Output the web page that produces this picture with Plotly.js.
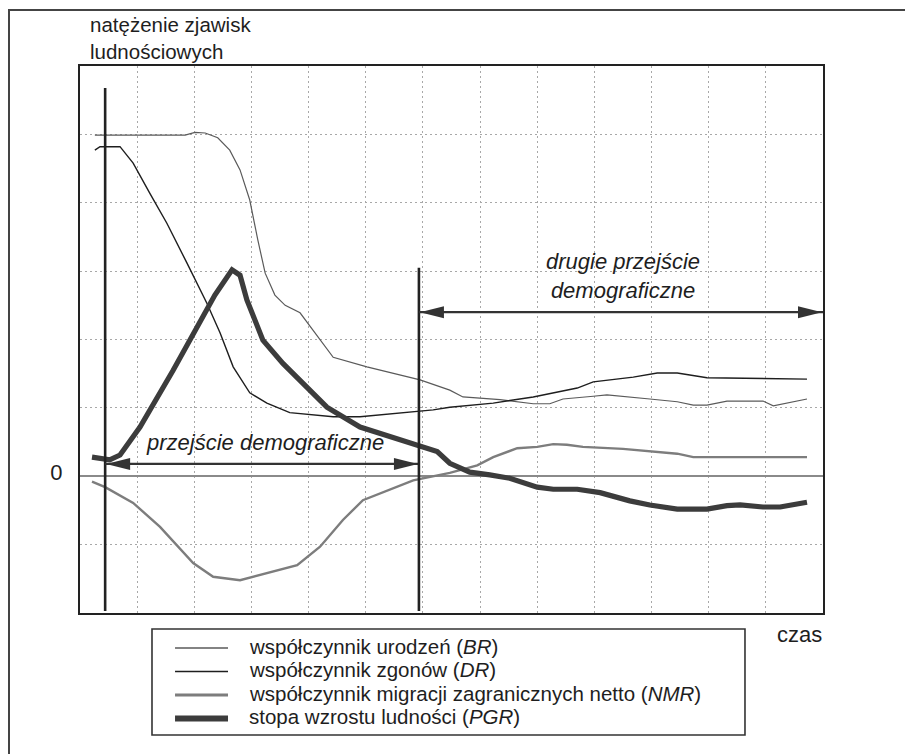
<!DOCTYPE html>
<html>
<head>
<meta charset="utf-8">
<script src="https://cdn.plot.ly/plotly-3.0.1.min.js"></script>
<style>
  html, body { margin: 0; padding: 0; background: #fff; }
  #frame { position: absolute; left: 8px; top: 9px; width: 905px; height: 760px;
           border-left: 2px solid #444; border-top: 2px solid #444; box-sizing: border-box; }
  #chart { position: absolute; left: 0; top: 0; width: 905px; height: 754px; }
</style>
</head>
<body>
<div id="frame"></div>
<div id="chart"></div>
<script>
// ---- data (time in grid units, intensity in grid units; 0 = zero line) ----
const brX  = [0.26, 1.84, 2.01, 2.19, 2.41, 2.62, 2.80, 2.97, 3.11, 3.24, 3.41, 3.59, 3.85, 4.20, 4.43, 5.02, 5.95, 6.47, 6.70, 7.35, 7.93, 8.22, 8.45, 8.98, 9.22, 9.97, 10.45, 10.73, 10.97, 11.32, 11.95, 12.13, 12.72];
const brY  = [4.99, 4.99, 5.03, 5.02, 4.95, 4.77, 4.48, 4.04, 3.46, 2.97, 2.65, 2.50, 2.39, 1.99, 1.74, 1.60, 1.41, 1.26, 1.16, 1.12, 1.06, 1.06, 1.13, 1.17, 1.19, 1.13, 1.09, 1.04, 1.04, 1.10, 1.10, 1.03, 1.13];

const drX  = [0.26, 0.35, 0.70, 0.93, 1.22, 1.52, 1.87, 2.22, 2.45, 2.68, 2.97, 3.27, 3.67, 4.43, 4.90, 5.60, 6.18, 6.47, 7.23, 7.93, 8.70, 8.98, 9.68, 10.10, 10.45, 10.67, 10.97, 12.72];
const drY  = [4.77, 4.82, 4.82, 4.58, 4.14, 3.70, 3.12, 2.53, 2.10, 1.60, 1.22, 1.07, 0.93, 0.87, 0.87, 0.93, 0.97, 1.01, 1.07, 1.16, 1.29, 1.38, 1.45, 1.51, 1.51, 1.48, 1.44, 1.42];

const nmrX = [0.21, 0.44, 0.93, 1.40, 1.98, 2.33, 2.80, 3.32, 3.80, 4.20, 4.60, 4.95, 5.42, 5.83, 6.47, 6.95, 7.23, 7.65, 8.00, 8.28, 8.52, 8.80, 9.50, 9.97, 10.45, 10.73, 12.72];
const nmrY = [-0.08, -0.16, -0.39, -0.74, -1.27, -1.47, -1.52, -1.40, -1.30, -1.03, -0.64, -0.35, -0.20, -0.06, 0.05, 0.16, 0.28, 0.41, 0.43, 0.47, 0.46, 0.43, 0.40, 0.36, 0.33, 0.28, 0.28];

const pgrX = [0.21, 0.52, 0.70, 1.05, 1.63, 2.10, 2.36, 2.66, 2.80, 2.92, 3.20, 3.55, 4.32, 4.90, 5.48, 6.00, 6.25, 6.47, 6.82, 7.17, 7.52, 8.00, 8.28, 8.70, 9.10, 9.62, 9.97, 10.45, 10.97, 11.32, 11.55, 11.95, 12.25, 12.72];
const pgrY = [0.28, 0.24, 0.31, 0.72, 1.55, 2.24, 2.65, 3.02, 2.94, 2.58, 1.99, 1.65, 1.01, 0.72, 0.56, 0.43, 0.36, 0.19, 0.06, 0.02, -0.03, -0.16, -0.19, -0.19, -0.24, -0.36, -0.42, -0.48, -0.48, -0.43, -0.42, -0.45, -0.45, -0.38];

const seriesNames = [
  'współczynnik urodzeń (<i>BR</i>)',
  'współczynnik zgonów (<i>DR</i>)',
  'współczynnik migracji zagranicznych netto (<i>NMR</i>)',
  'stopa wzrostu ludności (<i>PGR</i>)'
];

const xTickVals = [0,1,2,3,4,5,6,7,8,9,10,11,12,13];
const yTickVals = [-2,-1,0,1,2,3,4,5,6];
const yTickText = ['', '', '0', '', '', '', '', '', ''];

// phase boundaries (time) and their marker tops, arrow levels
const phaseStart  = [0.44, 5.93];
const phaseEnd    = [5.93, 13];
const boundaryTop = [5.68, 3.05];
const arrowLevel  = [0.18, 2.40];
const phaseLabels = ['<i>przejście demograficzne</i>', '<i>drugie przejście</i><br><i>demograficzne</i>'];
const phaseLabelX = [3.24, 9.50];
const phaseLabelY = [0.49, 2.93];

// ---- styles ----
const FONT = 'Liberation Sans, Arial, Helvetica, sans-serif';
const TXT = '#1e1e1e';
const seriesStyle = [
  {color: '#5a5a5a', width: 1.2},
  {color: '#1e1e1e', width: 1.4},
  {color: '#7d7d7d', width: 2.4},
  {color: '#3c3c3c', width: 5.2}
];
const legendSampleWidth = [1.3, 1.6, 2.8, 6];

const traces = [
  {x: brX,  y: brY,  name: seriesNames[0], mode: 'lines', line: seriesStyle[0], showlegend: false},
  {x: drX,  y: drY,  name: seriesNames[1], mode: 'lines', line: seriesStyle[1], showlegend: false},
  {x: nmrX, y: nmrY, name: seriesNames[2], mode: 'lines', line: seriesStyle[2], showlegend: false},
  {x: pgrX, y: pgrY, name: seriesNames[3], mode: 'lines', line: seriesStyle[3], showlegend: false}
];

const shapes = [];
const annotations = [];
for (let i = 0; i < phaseStart.length; i++) {
  shapes.push({type: 'line', xref: 'x', yref: 'y', x0: phaseStart[i], x1: phaseStart[i],
               y0: boundaryTop[i], y1: -1.97, line: {color: '#222', width: 2.6}});
  shapes.push({type: 'line', xref: 'x', yref: 'y', x0: phaseStart[i], x1: phaseEnd[i],
               y0: arrowLevel[i], y1: arrowLevel[i], line: {color: '#333', width: 2.2}});
  shapes.push({type: 'path', xref: 'x', yref: 'y', xsizemode: 'pixel', ysizemode: 'pixel',
               xanchor: phaseStart[i], yanchor: arrowLevel[i],
               path: 'M1,0L25,6L25,-6Z', fillcolor: '#333', line: {width: 0}});
  shapes.push({type: 'path', xref: 'x', yref: 'y', xsizemode: 'pixel', ysizemode: 'pixel',
               xanchor: phaseEnd[i], yanchor: arrowLevel[i],
               path: 'M-1,0L-25,6L-25,-6Z', fillcolor: '#333', line: {width: 0}});
  annotations.push({x: phaseLabelX[i], y: phaseLabelY[i], xref: 'x', yref: 'y',
                    text: phaseLabels[i], showarrow: false,
                    font: {family: FONT, size: 22, color: TXT}});
}

// ---- legend drawn below the plot (paper coordinates) ----
const legBox = {x0: 0.0969, x1: 0.895, y0: -0.2230, y1: -0.0293};
const legRowY = [-0.0640, -0.1070, -0.1499, -0.1929];
const legSampleX = [0.1279, 0.1992];
const legTextX = 0.2248;
shapes.push({type: 'rect', xref: 'paper', yref: 'paper', x0: legBox.x0, x1: legBox.x1,
             y0: legBox.y0, y1: legBox.y1, line: {color: '#333', width: 1.6}, fillcolor: 'rgba(0,0,0,0)'});
for (let i = 0; i < seriesNames.length; i++) {
  shapes.push({type: 'line', xref: 'paper', yref: 'paper', x0: legSampleX[0], x1: legSampleX[1],
               y0: legRowY[i], y1: legRowY[i],
               line: {color: seriesStyle[i].color, width: legendSampleWidth[i]}});
  annotations.push({xref: 'paper', yref: 'paper', x: legTextX, y: legRowY[i] + 0.003,
                    xanchor: 'left', yanchor: 'middle', text: seriesNames[i], showarrow: false,
                    font: {family: FONT, size: 20.5, color: TXT}});
}

// axis titles as free text
annotations.push({xref: 'paper', yref: 'paper', x: 0.0108, y: 1.1005, xanchor: 'left', yanchor: 'top',
                  align: 'left', text: 'natężenie zjawisk<br>ludnościowych', showarrow: false,
                  font: {family: FONT, size: 20.5, color: TXT}});
annotations.push({xref: 'paper', yref: 'paper', x: 0.969, y: -0.040, xanchor: 'center', yanchor: 'middle',
                  text: 'czas', showarrow: false, font: {family: FONT, size: 22, color: TXT}});

const layout = {
  width: 905, height: 754,
  margin: {l: 80, r: 82, t: 66, b: 141},
  paper_bgcolor: 'rgba(0,0,0,0)',
  plot_bgcolor: 'rgba(0,0,0,0)',
  font: {family: FONT, size: 22, color: TXT},
  showlegend: false,
  xaxis: {
    range: [0, 13], tickvals: xTickVals, showticklabels: false, ticks: '',
    showgrid: true, gridcolor: '#a8a8a8', gridwidth: 1, griddash: '1.5px,3.5px',
    zeroline: false, showline: true, mirror: true, linecolor: '#222', linewidth: 2,
    fixedrange: true
  },
  yaxis: {
    range: [-2, 6], tickvals: yTickVals, ticktext: yTickText, ticks: '',
    ticklabelstandoff: 11, ticklabelshift: -4,
    tickfont: {family: FONT, size: 22, color: TXT},
    showgrid: true, gridcolor: '#a8a8a8', gridwidth: 1, griddash: '1.5px,3.5px',
    zeroline: true, zerolinecolor: '#8a8a8a', zerolinewidth: 1.6,
    showline: true, mirror: true, linecolor: '#222', linewidth: 2,
    fixedrange: true
  },
  shapes: shapes,
  annotations: annotations
};

Plotly.newPlot('chart', traces, layout, {staticPlot: true, displayModeBar: false});
</script>
</body>
</html>
